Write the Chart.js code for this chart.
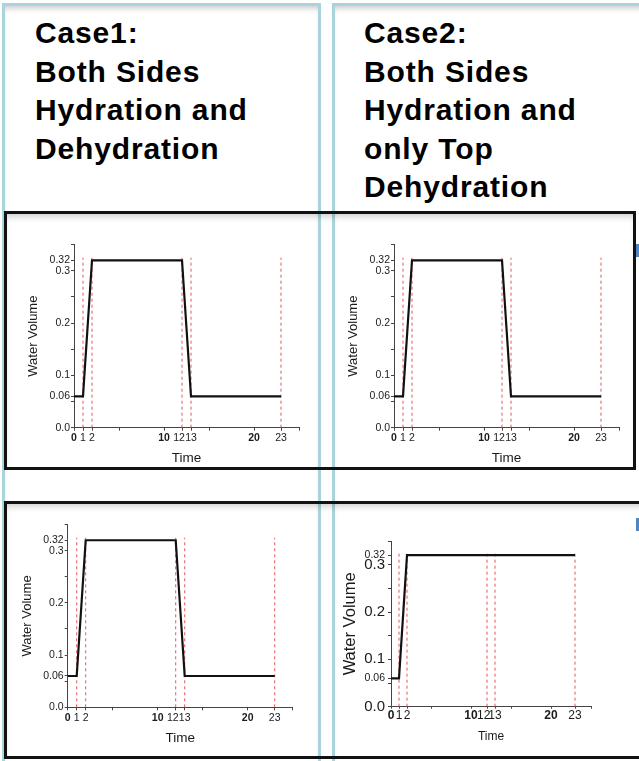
<!DOCTYPE html>
<html>
<head>
<meta charset="utf-8">
<script src="https://cdn.jsdelivr.net/npm/chart.js@4.4.0/dist/chart.umd.min.js"></script>
<style>
  body { margin: 0; width: 639px; height: 761px; background: #fff; position: relative; overflow: hidden;
         font-family: "Liberation Sans", Arial, sans-serif; }
  .col { position: absolute; top: 3px; height: 780px; border: 3px solid #a9d4db;
         box-shadow: inset 0 5px 5px -2px rgba(0,0,0,0.18); }
  .frame { position: absolute; border: 3.5px solid #111; box-shadow: inset 0 6px 6px -3px rgba(0,0,0,0.18); }
  .head { position: absolute; top: 14px; font-weight: bold; font-size: 30px; line-height: 38.5px;
          letter-spacing: 0.85px; color: #000; white-space: pre; }
  .mark { position: absolute; left: 636px; width: 3px; height: 13px; background: #4f86c6; }
  canvas { position: absolute; }
</style>
</head>
<body>
<div class="col" style="left:2px; width:313px;"></div>
<div class="col" style="left:332px; width:310px;"></div>
<div class="head" style="left:35px;">Case1:
Both Sides
Hydration and
Dehydration</div>
<div class="head" style="left:364px;">Case2:
Both Sides
Hydration and
only Top
Dehydration</div>
<div class="frame" style="left:4px; top:211px; width:626px; height:253px;"></div>
<div class="frame" style="left:4px; top:501px; width:640px; height:252px;"></div>
<div class="mark" style="top:244px;"></div>
<div class="mark" style="top:518px;"></div>
<canvas id="c1" style="left:8px; top:216px;" width="305" height="250"></canvas>
<canvas id="c2" style="left:338px; top:216px;" width="295" height="250"></canvas>
<canvas id="c3" style="left:8px; top:505px;" width="305" height="252"></canvas>
<canvas id="c4" style="left:338px; top:505px;" width="295" height="252"></canvas>
<script>
// case 1: both sides hydration and dehydration
const case1Time = [0, 1, 2, 12, 13, 23];
const case1Water = [0.06, 0.06, 0.32, 0.32, 0.06, 0.06];
// case 2: only top dehydration -> stays hydrated
const case2Time = [0, 1, 2, 23];
const case2Water = [0.06, 0.06, 0.32, 0.32];
// red dashed markers
const eventTimes = [1, 2, 12, 13, 23];
const eventTop = 0.325;

const xTickValues = [0, 1, 2, 10, 12, 13, 20, 23];
const xTickLabels = ['0', '1', '2', '10', '12  ', '13', '20', '23'];
const xBoldTicks = [0, 10, 20];
const xMinorTicks = [5, 15, 25];
const yTickValues = [0, 0.06, 0.1, 0.2, 0.3, 0.32];
const yTickLabels = ['0.0', '0.06', '0.1', '0.2', '0.3', '0.32'];
const yMinorTicks = [0.05, 0.15, 0.25, 0.35];

const FONT = "'Liberation Sans', Arial, sans-serif";

function toPoints(xs, ys) {
  return xs.map((x, i) => ({ x: x, y: ys[i] }));
}

function makeChart(id, time, water, g) {
  const canvas = document.getElementById(id);
  const cLeft = parseFloat(canvas.style.left), cTop = parseFloat(canvas.style.top);
  const cRight = cLeft + canvas.width, cBottom = cTop + canvas.height;
  const yLH = g.yTitleSize * 1.2, xLH = g.xTitleSize * 1.2;
  const padLeft = g.yTitleX - yLH / 2 - cLeft;
  const yWidth = g.plot.l - (g.yTitleX - yLH / 2);
  const xHeight = g.xTitleY + xLH / 2 - g.plot.b;
  const padBottom = cBottom - (g.xTitleY + xLH / 2);

  const datasets = [{
    data: toPoints(time, water),
    borderColor: '#111',
    borderWidth: 2.2,
    pointRadius: 0,
    showLine: true
  }];
  eventTimes.forEach(t => {
    datasets.push({
      data: [{ x: t, y: 0 }, { x: t, y: eventTop }],
      borderColor: 'rgba(225,70,70,0.9)',
      borderWidth: 1,
      borderDash: [3, 3],
      pointRadius: 0,
      showLine: true
    });
  });

  const allX = xTickValues.concat(xMinorTicks).sort((a, b) => a - b);
  const allY = yTickValues.concat(yMinorTicks).sort((a, b) => a - b);

  return new Chart(canvas, {
    type: 'scatter',
    data: { datasets: datasets },
    options: {
      responsive: false,
      animation: false,
      devicePixelRatio: 1,
      layout: { padding: { left: padLeft, top: g.plot.t - cTop, right: cRight - g.plot.r, bottom: padBottom } },
      plugins: { legend: { display: false }, tooltip: { enabled: false } },
      scales: {
        x: {
          type: 'linear', min: 0, max: 25,
          afterBuildTicks: s => { s.ticks = allX.map(v => ({ value: v })); },
          afterFit: s => { s.height = xHeight; },
          ticks: {
            autoSkip: false, maxRotation: 0, minRotation: 0, padding: g.xPad, color: '#1a1a1a',
            font: ctx => ({ family: FONT, size: g.xTickSize,
              weight: ctx.tick && xBoldTicks.includes(ctx.tick.value) ? 'bold' : 'normal' }),
            callback: v => {
              const i = xTickValues.indexOf(v);
              return i >= 0 ? xTickLabels[i] : '';
            }
          },
          grid: { drawOnChartArea: false, tickLength: g.xTickLen, color: '#444' },
          border: { color: '#444', width: 1 },
          title: { display: true, text: 'Time', color: '#1a1a1a', padding: 0,
                   font: { family: FONT, size: g.xTitleSize } }
        },
        y: {
          type: 'linear', min: 0, max: 0.35,
          afterBuildTicks: s => { s.ticks = allY.map(v => ({ value: v })); },
          afterFit: s => { s.width = yWidth; },
          ticks: {
            autoSkip: false, padding: g.yPad, color: '#1a1a1a',
            font: ctx => {
              const i = ctx.tick ? yTickValues.indexOf(ctx.tick.value) : -1;
              const small = i === 1 || i === 5;
              return { family: FONT, size: small ? g.ySmallSize : g.yTickSize };
            },
            callback: v => {
              const i = yTickValues.indexOf(v);
              return i >= 0 ? yTickLabels[i] : '';
            }
          },
          grid: { drawOnChartArea: false, tickLength: 3, color: '#444' },
          border: { color: '#444', width: 1 },
          title: { display: true, text: 'Water Volume', color: '#1a1a1a', padding: 0,
                   font: { family: FONT, size: g.yTitleSize } }
        }
      }
    }
  });
}

const smallGeo = {
  xTickSize: 10.5, xTickLen: 3, xPad: 1.5, xTitleSize: 13.5,
  yTickSize: 10.5, ySmallSize: 10.5, yPad: 1, yTitleSize: 13
};

makeChart('c1', case1Time, case1Water, Object.assign({}, smallGeo, {
  plot: { l: 74, r: 299, t: 244.6, b: 427.7 }, yTitleX: 33.5, xTitleY: 458
}));
makeChart('c2', case1Time, case1Water, Object.assign({}, smallGeo, {
  plot: { l: 394, r: 619, t: 244.6, b: 427.7 }, yTitleX: 353.5, xTitleY: 458
}));
makeChart('c3', case1Time, case1Water, Object.assign({}, smallGeo, {
  plot: { l: 67.7, r: 292.7, t: 524.6, b: 707.3 }, yTitleX: 27.2, xTitleY: 738
}));
makeChart('c4', case2Time, case2Water, {
  xTickSize: 12, xTickLen: 2, xPad: 0, xTitleSize: 12,
  yTickSize: 15, ySmallSize: 10.5, yPad: 3, yTitleSize: 16.5,
  plot: { l: 391, r: 591, t: 541, b: 706.7 }, yTitleX: 350, xTitleY: 737
});
</script>
</body>
</html>
